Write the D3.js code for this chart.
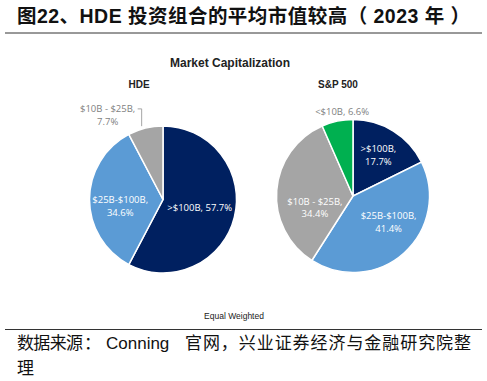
<!DOCTYPE html>
<html>
<head>
<meta charset="utf-8">
<script src="https://cdn.jsdelivr.net/npm/d3@7"></script>
<style>
  body { margin: 0; background: #fff; }
  svg { display: block; }
</style>
</head>
<body>
<div id="app"></div>
<script>
// chart values
const hdeCategories = [">$100B", "$25B-$100B", "$10B - $25B"];
const hdeValues = [57.7, 34.6, 7.7];
const spCategories = [">$100B", "$25B-$100B", "$10B - $25B", "<$10B"];
const spValues = [17.7, 41.4, 34.4, 6.6];

const colorScale = d3.scaleOrdinal()
    .domain([">$100B", "$25B-$100B", "$10B - $25B", "<$10B"])
    .range(["#002060", "#5b9bd5", "#a5a5a5", "#00b050"]);

const W = 487, H = 381;
const svg = d3.select("#app").append("svg")
    .attr("width", W)
    .attr("height", H);

const cjk = "'Liberation Sans', 'Noto Sans CJK SC', sans-serif";
const labelFont = "'Open Sans', 'Noto Sans', sans-serif";

// header
svg.append("text")
    .attr("x", 17).attr("y", 23)
    .attr("font-family", cjk)
    .attr("font-size", 19.5)
    .attr("font-weight", "bold")
    .attr("fill", "#111")
    .attr("textLength", 453)
    .attr("lengthAdjust", "spacing")
    .text("图22、HDE 投资组合的平均市值较高（ 2023 年 ）");
svg.append("line")
    .attr("x1", 5).attr("x2", 482).attr("y1", 33).attr("y2", 33)
    .attr("stroke", "#333").attr("stroke-width", 1);

svg.append("text")
    .attr("x", 230).attr("y", 67)
    .attr("text-anchor", "middle")
    .attr("font-family", "'Liberation Sans', Arial, sans-serif")
    .attr("font-size", 12)
    .attr("font-weight", "bold")
    .attr("fill", "#222")
    .text("Market Capitalization");

// label placement: k = fraction of radius, shift = angle nudge from mid-slice
function drawPie(cx, cy, r, title, titleX, cats, vals, place) {
    const data = cats.map((c, i) => ({ cat: c, value: vals[i] }));
    const pie = d3.pie().sort(null).value(d => d.value);
    const arc = d3.arc().innerRadius(0).outerRadius(r);
    const arcs = pie(data);

    svg.append("text")
        .attr("x", titleX).attr("y", 88)
        .attr("text-anchor", "middle")
        .attr("font-family", "'Liberation Sans', Arial, sans-serif")
        .attr("font-size", 10)
        .attr("font-weight", "bold")
        .attr("fill", "#222")
        .text(title);

    const g = svg.append("g").attr("transform", `translate(${cx},${cy})`);
    g.selectAll("path")
        .data(arcs)
        .join("path")
        .attr("d", arc)
        .attr("fill", d => colorScale(d.data.cat))
        .attr("stroke", "#fff")
        .attr("stroke-width", 1.5);

    arcs.forEach((d, i) => {
        const p = place[i];
        const pct = d.data.value.toFixed(1) + "%";
        const mid = (d.startAngle + d.endAngle) / 2 + p.shift;
        const lx = Math.sin(mid) * r * p.k;
        const ly = -Math.cos(mid) * r * p.k;
        const t = g.append("text")
            .attr("text-anchor", "middle")
            .attr("font-family", labelFont)
            .attr("font-size", 9.5)
            .attr("fill", p.out ? "#7f7f7f" : "#fff");
        if (p.lines === 1) {
            t.append("tspan").attr("x", lx).attr("y", ly + 3.5).text(d.data.cat + ", " + pct);
        } else {
            t.append("tspan").attr("x", lx).attr("y", ly - 3).text(d.data.cat + ",");
            t.append("tspan").attr("x", lx).attr("y", ly + 9.5).text(pct);
        }
        if (p.leader) {
            const bx = lx + 30, by = ly - 6.5;
            const ex = bx + 4;
            const ey = -Math.sqrt(r * r - ex * ex) - 3;
            g.append("path")
                .attr("d", `M${bx},${by}H${ex}V${ey}`)
                .attr("fill", "none")
                .attr("stroke", "#a5a5a5")
                .attr("stroke-width", 1);
        }
    });
}

drawPie(163, 199.5, 73.5, "HDE", 139, hdeCategories, hdeValues, [
    { k: 0.51, shift: -0.04, lines: 1 },
    { k: 0.59, shift: -0.16, lines: 2 },
    { k: 1.37, shift: -0.34, lines: 2, out: true, leader: true }
]);

drawPie(353, 196, 76.5, "S&P 500", 338, spCategories, spValues, [
    { k: 0.63, shift: 0, lines: 2 },
    { k: 0.58, shift: -0.2, lines: 2 },
    { k: 0.52, shift: -0.37, lines: 2 },
    { k: 1.12, shift: 0.08, lines: 1, out: true }
]);

svg.append("text")
    .attr("x", 234).attr("y", 319)
    .attr("text-anchor", "middle")
    .attr("font-family", "'Liberation Sans', Arial, sans-serif")
    .attr("font-size", 8.5)
    .attr("fill", "#222")
    .text("Equal Weighted");

svg.append("line")
    .attr("x1", 5).attr("x2", 482).attr("y1", 329.5).attr("y2", 329.5)
    .attr("stroke", "#333").attr("stroke-width", 1);

// source note
const src = svg.append("g")
    .attr("font-family", cjk)
    .attr("font-size", 17)
    .attr("fill", "#111");
src.append("text").attr("x", 17).attr("y", 349)
    .attr("textLength", 66).attr("lengthAdjust", "spacing")
    .text("数据来源");
src.append("text").attr("x", 84).attr("y", 349).text("：");
src.append("text").attr("x", 106).attr("y", 349).text("Conning");
src.append("text").attr("x", 185).attr("y", 349)
    .attr("textLength", 286).attr("lengthAdjust", "spacing")
    .text("官网，兴业证券经济与金融研究院整");
src.append("text").attr("x", 17).attr("y", 374).text("理");
</script>
</body>
</html>
